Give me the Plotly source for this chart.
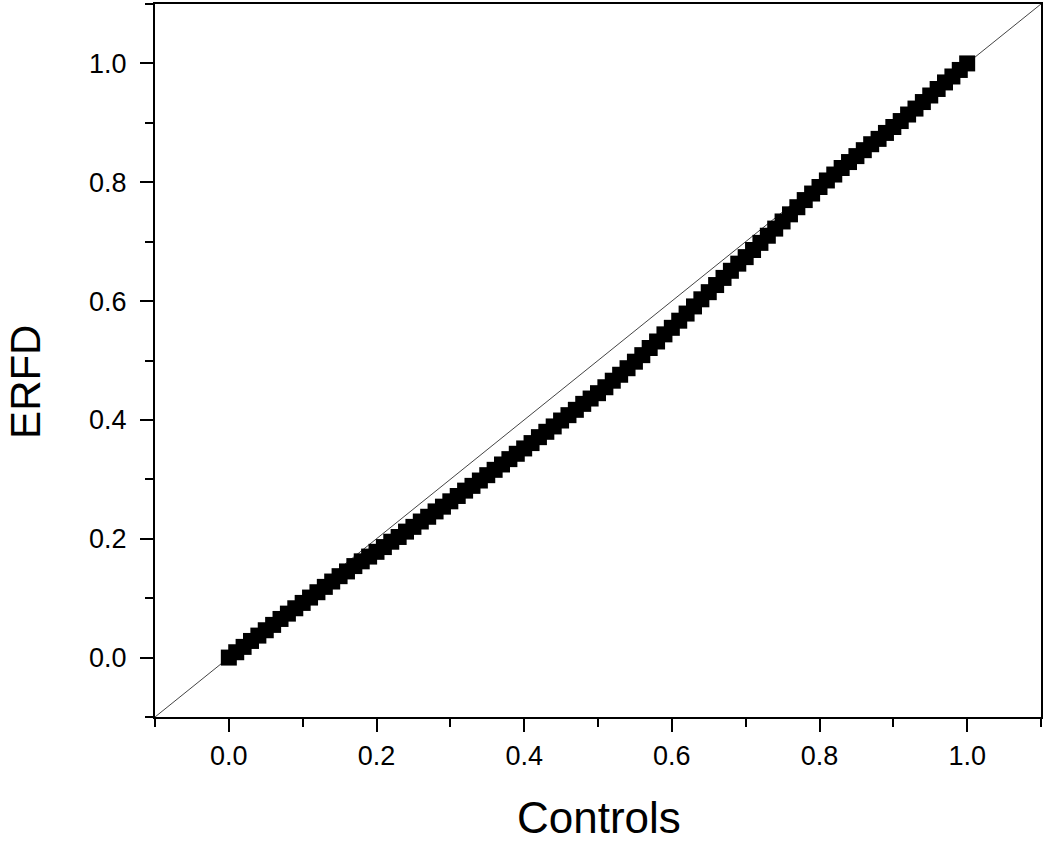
import plotly.graph_objects as go

# P-P plot: ERFD vs Controls
controls = [0.00, 0.01, 0.02, 0.03, 0.04, 0.05, 0.06, 0.07, 0.08, 0.09,
            0.10, 0.11, 0.12, 0.13, 0.14, 0.15, 0.16, 0.17, 0.18, 0.19,
            0.20, 0.21, 0.22, 0.23, 0.24, 0.25, 0.26, 0.27, 0.28, 0.29,
            0.30, 0.31, 0.32, 0.33, 0.34, 0.35, 0.36, 0.37, 0.38, 0.39,
            0.40, 0.41, 0.42, 0.43, 0.44, 0.45, 0.46, 0.47, 0.48, 0.49,
            0.50, 0.51, 0.52, 0.53, 0.54, 0.55, 0.56, 0.57, 0.58, 0.59,
            0.60, 0.61, 0.62, 0.63, 0.64, 0.65, 0.66, 0.67, 0.68, 0.69,
            0.70, 0.71, 0.72, 0.73, 0.74, 0.75, 0.76, 0.77, 0.78, 0.79,
            0.80, 0.81, 0.82, 0.83, 0.84, 0.85, 0.86, 0.87, 0.88, 0.89,
            0.90, 0.91, 0.92, 0.93, 0.94, 0.95, 0.96, 0.97, 0.98, 0.99,
            1.00]
erfd = [0.000, 0.009, 0.018, 0.028, 0.037, 0.046, 0.055, 0.065, 0.074, 0.083,
        0.092, 0.101, 0.110, 0.119, 0.128, 0.137, 0.145, 0.154, 0.162, 0.170,
        0.178, 0.186, 0.195, 0.203, 0.212, 0.220, 0.229, 0.237, 0.246, 0.254,
        0.263, 0.272, 0.281, 0.289, 0.298, 0.307, 0.316, 0.325, 0.334, 0.343,
        0.352, 0.361, 0.371, 0.380, 0.389, 0.399, 0.408, 0.417, 0.427, 0.436,
        0.445, 0.455, 0.466, 0.476, 0.487, 0.498, 0.509, 0.521, 0.532, 0.544,
        0.555, 0.567, 0.579, 0.591, 0.603, 0.615, 0.627, 0.639, 0.651, 0.663,
        0.674, 0.686, 0.698, 0.710, 0.722, 0.734, 0.746, 0.758, 0.770, 0.781,
        0.792, 0.803, 0.813, 0.824, 0.834, 0.844, 0.854, 0.864, 0.873, 0.883,
        0.893, 0.903, 0.914, 0.924, 0.935, 0.946, 0.957, 0.968, 0.978, 0.989,
        1.000]

# reference line y = x across the full axis range
diag_x = [-0.1, 1.1]
diag_y = [-0.1, 1.1]

tick_vals = [0.0, 0.2, 0.4, 0.6, 0.8, 1.0]
tick_text = ["0.0", "0.2", "0.4", "0.6", "0.8", "1.0"]

FONT = "Arial, Liberation Sans, sans-serif"

fig = go.Figure()
fig.add_trace(go.Scatter(x=diag_x, y=diag_y, mode="lines",
                         line=dict(color="#444444", width=1),
                         showlegend=False, hoverinfo="skip"))
fig.add_trace(go.Scatter(x=controls, y=erfd, mode="markers",
                         marker=dict(symbol="square", size=16, color="black",
                                     line=dict(width=0)),
                         showlegend=False))

axis_common = dict(
    range=[-0.1, 1.1],
    tickvals=tick_vals,
    ticktext=tick_text,
    ticks="outside",
    ticklen=13,
    tickwidth=2,
    tickcolor="black",
    minor=dict(dtick=0.1, tick0=0, ticks="outside", ticklen=8,
               tickwidth=2, tickcolor="black"),
    showline=True,
    linecolor="black",
    linewidth=2,
    mirror=True,
    showgrid=False,
    zeroline=False,
    tickfont=dict(family=FONT, size=27, color="black"),
)

fig.update_xaxes(**axis_common, ticklabelstandoff=1)
fig.update_yaxes(**axis_common, ticklabelstandoff=8)

# axis titles as annotations so they sit where the original has them
fig.add_annotation(text="Controls", xref="paper", yref="paper",
                   x=0.501, y=-0.141, xanchor="center", yanchor="middle",
                   showarrow=False,
                   font=dict(family=FONT, size=44, color="black"))
fig.add_annotation(text="ERFD", xref="paper", yref="paper",
                   x=-0.1456, y=0.470, xanchor="center", yanchor="middle",
                   textangle=-90, showarrow=False,
                   font=dict(family=FONT, size=42, color="black"))

fig.update_layout(
    width=1050, height=841,
    margin=dict(l=155, r=9, t=2, b=124),
    plot_bgcolor="white",
    paper_bgcolor="white",
)

fig.write_html("out.html", config={"displayModeBar": False},
               post_script="document.body.style.margin='0';")
